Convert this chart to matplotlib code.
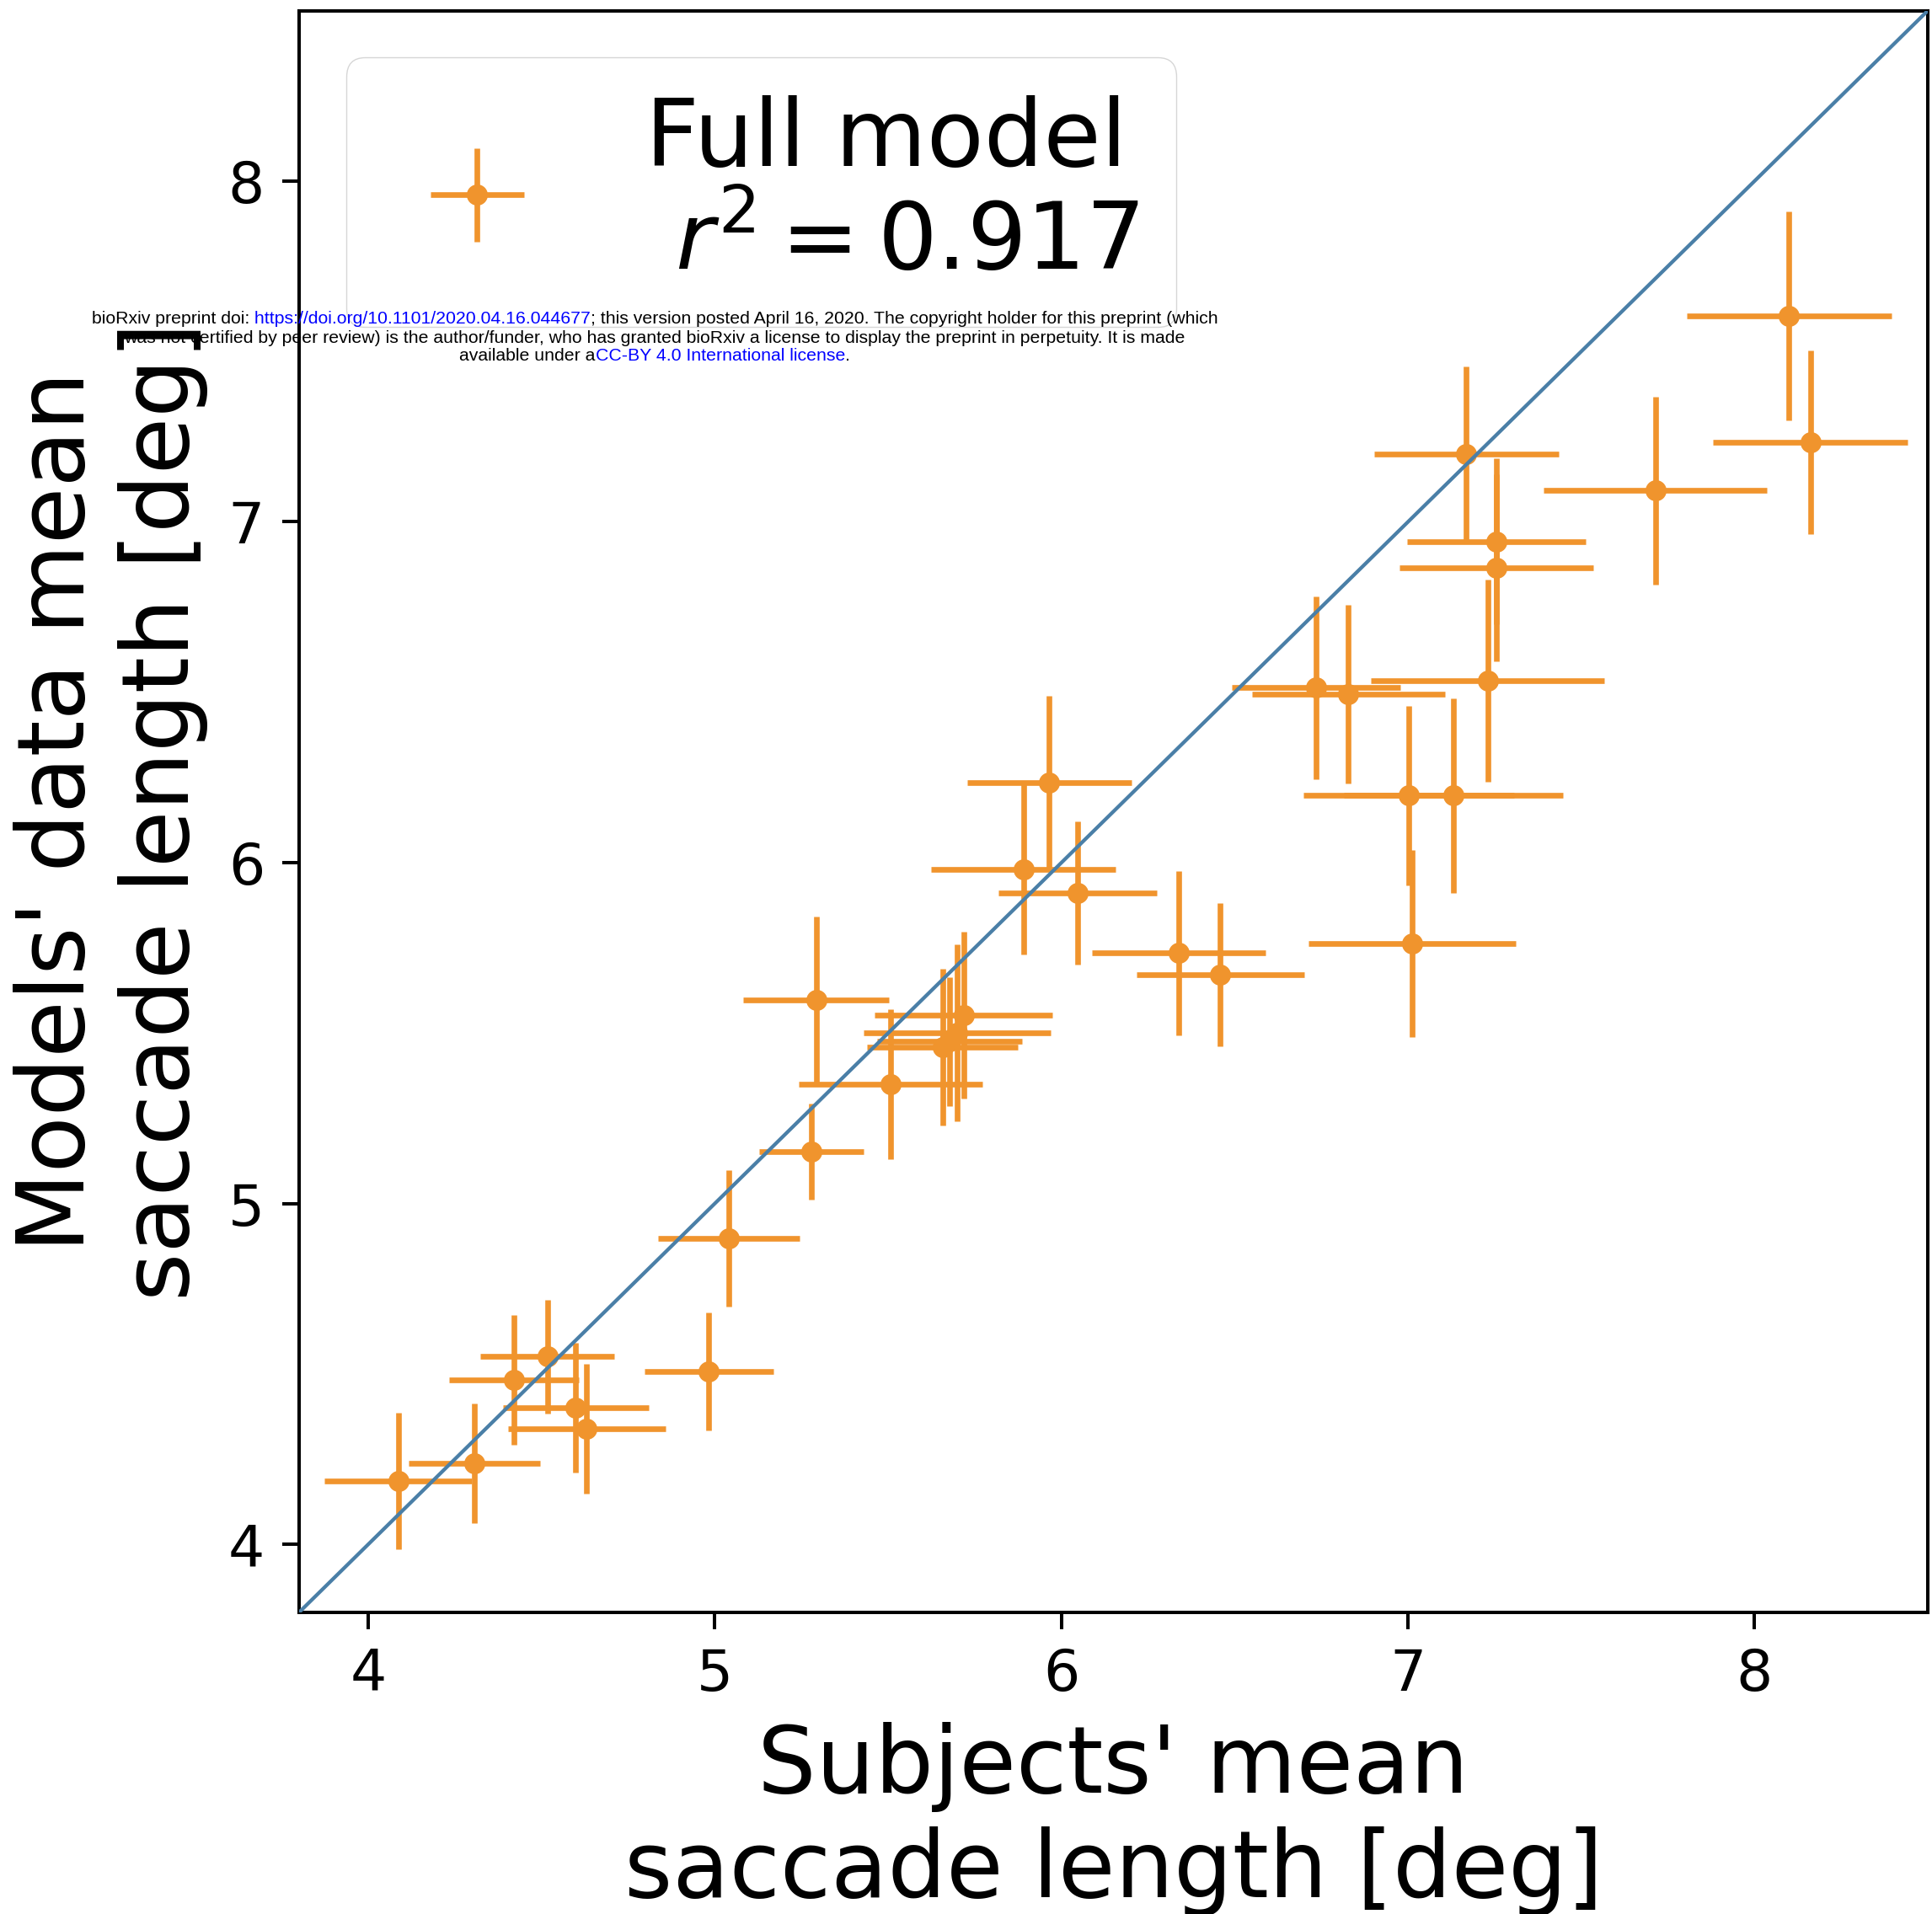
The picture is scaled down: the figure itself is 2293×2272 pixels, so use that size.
import matplotlib
matplotlib.use("Agg")
import matplotlib.pyplot as plt
from matplotlib.offsetbox import TextArea, HPacker, AnnotationBbox

# Mean saccade length per subject vs. the full model's prediction (deg)
subject_len = [4.086, 4.306, 4.420, 4.517, 4.598, 4.630, 4.983, 5.040, 5.278, 5.292,
               5.506, 5.657, 5.677, 5.700, 5.718, 5.890, 5.965, 6.046, 6.338, 6.458,
               6.734, 6.828, 7.003, 7.131, 7.011, 7.230, 7.255, 7.255, 7.168, 7.714,
               8.100, 8.161]
model_len = [4.186, 4.237, 4.482, 4.551, 4.400, 4.338, 4.507, 4.898, 5.152, 5.597,
             5.351, 5.459, 5.475, 5.500, 5.553, 5.980, 6.236, 5.912, 5.735, 5.672,
             6.513, 6.494, 6.197, 6.197, 5.763, 6.534, 6.865, 6.943, 7.199, 7.092,
             7.604, 7.233]
subject_err = [0.213, 0.190, 0.188, 0.193, 0.210, 0.228, 0.185, 0.205, 0.150, 0.210,
               0.265, 0.217, 0.210, 0.270, 0.257, 0.267, 0.237, 0.229, 0.251, 0.242,
               0.243, 0.278, 0.304, 0.316, 0.299, 0.336, 0.279, 0.257, 0.266, 0.322,
               0.295, 0.280]
model_err = [0.200, 0.175, 0.190, 0.167, 0.190, 0.190, 0.174, 0.200, 0.140, 0.245,
             0.220, 0.230, 0.190, 0.260, 0.245, 0.250, 0.253, 0.210, 0.241, 0.210,
             0.268, 0.262, 0.263, 0.285, 0.275, 0.297, 0.275, 0.243, 0.256, 0.276,
             0.306, 0.269]

ticks = [4, 5, 6, 7, 8]
r2 = 0.917

orange = "#f0942d"
blue = "#4a7fa7"

fig = plt.figure(figsize=(22.93, 22.72), dpi=100)
ax = fig.add_axes([0.1548, 0.1576, 0.8430, 0.8368])

ax.errorbar(subject_len, model_len, xerr=subject_err, yerr=model_err,
            fmt="o", color=orange, ms=17, elinewidth=4.8, capsize=0,
            label="Full model\n $r^2 = %.3f$" % r2)
# identity line
ax.axline((0, 0), slope=1, color=blue, lw=3.1, zorder=3)

ax.set_xlim(3.8, 8.5)
ax.set_ylim(3.8, 8.5)
ax.set_xticks(ticks)
ax.set_yticks(ticks)
ax.tick_params(labelsize=49, length=14.4, width=2.9, pad=15)
for spine in ax.spines.values():
    spine.set_linewidth(2.9)

ax.set_xlabel("Subjects' mean\nsaccade length [deg]", fontsize=79, labelpad=17)
ax.set_ylabel("Models' data mean\nsaccade length [deg]", fontsize=79, labelpad=17)
ax.legend(loc="upper left", fontsize=80)

# preprint stamp printed across the top of the page
stamp = [
    [("bioRxiv preprint doi:", "black"),
     (" https://doi.org/10.1101/2020.04.16.044677", "blue"),
     ("; this version posted April 16, 2020. The copyright holder for this preprint (which", "black")],
    [("was not certified by peer review) is the author/funder, who has granted bioRxiv a license "
      "to display the preprint in perpetuity. It is made", "black")],
    [("available under a", "black"),
     ("CC-BY 4.0 International license", "blue"),
     (".", "black")],
]
stamp_y = [1 - 379 / 2272, 1 - 401 / 2272, 1 - 422.5 / 2272]
for parts, y in zip(stamp, stamp_y):
    boxes = [TextArea(s, textprops=dict(color=c, fontsize=15.3, family="Liberation Sans"))
             for s, c in parts]
    line = HPacker(children=boxes, align="baseline", pad=0, sep=0)
    fig.add_artist(AnnotationBbox(line, (0.3389, y), xycoords="figure fraction",
                                  box_alignment=(0.5, 0.5), frameon=False, pad=0))

fig.savefig("out.png", dpi=100)
